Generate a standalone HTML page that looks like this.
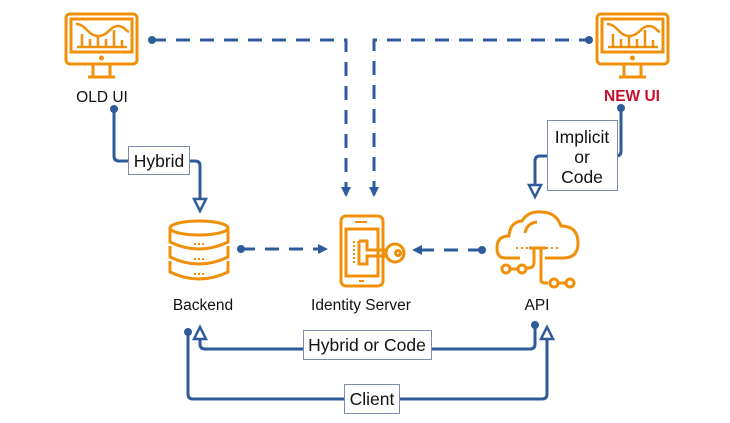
<!DOCTYPE html>
<html><head><meta charset="utf-8"><style>
html,body{margin:0;padding:0;background:#fff;}
svg{display:block;}
text{font-family:"Liberation Sans",Arial,sans-serif;}
</style></head><body>
<svg width="730" height="423" viewBox="0 0 730 423" xmlns="http://www.w3.org/2000/svg">
<defs>
<g id="mon" fill="none" stroke="#f0900a" stroke-width="3">
  <rect x="0" y="0" width="71" height="50" rx="4"/>
  <rect x="5" y="5" width="61" height="33"/>
  <path d="M10 10 C20 10,22 22,32 22 C42 22,44 12,52 12 C58 12,60 17,63 18" stroke-width="2.5"/>
  <path d="M11 33H61 M16 33V20 M24 33V25 M32 33V22 M40 33V25 M48 33V16 M56 33V26" stroke-width="2.5"/>
  <circle cx="35.5" cy="44" r="1" fill="#f0900a"/>
  <path d="M27 50V62 M44 50V62 M22 63H49"/>
</g>
</defs>
<g fill="none" stroke="#2f5b9a" stroke-width="3">
  <path d="M152 40H346V195" stroke-dasharray="14 10"/>
  <path d="M374 195V40H589" stroke-dasharray="14 10"/>
  <path d="M241 249H320" stroke-dasharray="14 10"/>
  <path d="M482 250H420" stroke-dasharray="14 10"/>
  <path d="M114 109V156Q114 161 119 161H195Q200 161 200 166V200"/>
  <path d="M621 108V151Q621 156 616 156H540Q535 156 535 161V186"/>
  <path d="M535 325V344Q535 349 530 349H205Q200 349 200 344V338"/>
  <path d="M188 332V394Q188 399 193 399H542Q547 399 547 394V338"/>
</g>
<g fill="#2f5b9a">
  <circle cx="152" cy="40" r="4"/><circle cx="589" cy="40" r="4"/>
  <circle cx="114" cy="109" r="4"/><circle cx="621" cy="108" r="4"/>
  <circle cx="241" cy="249" r="4"/><circle cx="482" cy="250" r="4"/>
  <circle cx="535" cy="325" r="4"/><circle cx="188" cy="332" r="4"/>
  <path d="M341 187L351 187L346 197Z"/><path d="M369 187L379 187L374 197Z"/>
  <path d="M318 244L318 254L328 249Z"/><path d="M422 245L422 255L412 250Z"/>
</g>
<g fill="#fff" stroke="#2f5b9a" stroke-width="2.5">
  <path d="M194 199L206 199L200 211Z"/>
  <path d="M529 185L541 185L535 197Z"/>
  <path d="M194 339L206 339L200 327Z"/>
  <path d="M541 339L553 339L547 327Z"/>
</g>
<g fill="#fff" stroke="#7f8ea8" stroke-width="1">
  <rect x="128.5" y="146.5" width="61" height="28"/>
  <rect x="547.5" y="120.5" width="70" height="70"/>
  <rect x="303.5" y="330.5" width="128" height="29"/>
  <rect x="344.5" y="384.5" width="55" height="29"/>
</g>
<g font-size="17.5" fill="#111" text-anchor="middle">
  <text x="159" y="167">Hybrid</text>
  <text x="582" y="143">Implicit</text>
  <text x="582" y="163">or</text>
  <text x="582" y="183">Code</text>
  <text x="367" y="351">Hybrid or Code</text>
  <text x="372" y="405">Client</text>
</g>
<g font-size="15.5" fill="#111" text-anchor="middle">
  <text x="102" y="102">OLD UI</text>
  <text x="203" y="310">Backend</text>
  <text x="361" y="310">Identity Server</text>
  <text x="537" y="310">API</text>
</g>
<text x="632" y="101" font-size="15.5" font-weight="bold" fill="#c8102e" text-anchor="middle">NEW UI</text>
<use href="#mon" x="66" y="14"/>
<use href="#mon" x="597" y="14"/>
<g fill="none" stroke="#f0900a" stroke-width="3">
  <ellipse cx="199" cy="228" rx="29" ry="7"/>
  <path d="M170 228V242Q199 256 228 242V228"/>
  <path d="M170 246V257Q199 271 228 257V246"/>
  <path d="M170 261V272Q199 286 228 272V261"/>
  <path d="M194 244h2M198 244h2M202 244h2 M194 259h2M198 259h2M202 259h2 M194 274h2M198 274h2M202 274h2" stroke-width="2"/>
</g>
<g fill="none" stroke="#f0900a" stroke-width="3">
  <rect x="341" y="216" width="42" height="70" rx="5"/>
  <rect x="346" y="229" width="32" height="47"/>
  <path d="M355 222h12 M359 281h5" stroke-width="2"/>
  <path d="M354 241V264" stroke-width="2" stroke-dasharray="2 2"/>
  <path d="M359 241V264H367V256H388 M359 241H367V250H388"/>
  <circle cx="395" cy="253" r="9"/>
  <circle cx="398" cy="253" r="2.5"/>
</g>
<g fill="none" stroke="#f0900a" stroke-width="3">
  <path d="M520 258H505Q497 258 497 248Q497 236 509 236Q510 222 522 221Q528 211 541 212Q556 212 561 226Q578 226 578 243Q578 258 563 258H545"/>
  <path d="M525 233Q527 223 537 222" />
  <path d="M516 248h2M521 248h2M526 248h2M546 248h2M551 248h2M556 248h2" stroke-width="2"/>
  <path d="M529 248H546 M534 248V262Q534 268 528 268H527 M541 248V281Q541 283 546 283H548"/>
  <circle cx="506" cy="269" r="4"/><circle cx="522" cy="269" r="4"/>
  <circle cx="554" cy="283" r="4"/><circle cx="570" cy="283" r="4"/>
  <path d="M510 269H518 M558 283H566"/>
</g>
</svg>
</body></html>
